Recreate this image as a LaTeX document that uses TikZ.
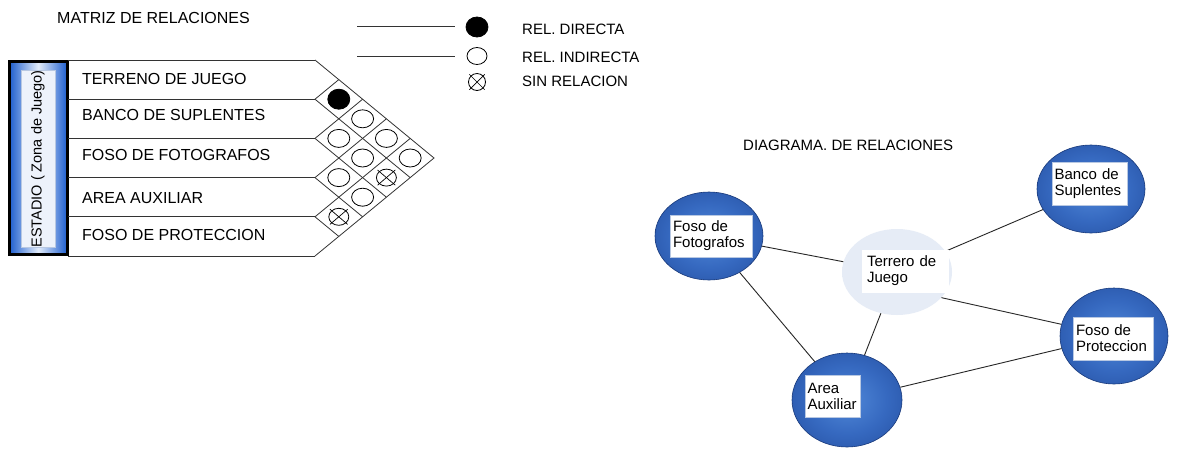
\documentclass[tikz,border=0pt]{standalone}
\usepackage{fontspec}
\setmainfont{Liberation Sans}
\usetikzlibrary{shapes.geometric,calc}
\definecolor{boxblue}{HTML}{1F5FCF}
\definecolor{boxlight}{HTML}{E2ECFB}
\definecolor{ellin}{HTML}{5088D8}
\definecolor{ellmid}{HTML}{3669C0}
\definecolor{ellout}{HTML}{1C4391}
\definecolor{terin}{HTML}{E6ECF6}
\definecolor{terout}{HTML}{C4D3EA}
\definecolor{linegray}{HTML}{333333}
\definecolor{tboxedge}{HTML}{B8C8E2}
\pgfdeclareradialshading{ellshade}{\pgfpoint{0bp}{0bp}}{color(0bp)=(ellin); color(18bp)=(ellmid); color(44bp)=(ellout); color(50bp)=(ellout)}
\pgfdeclareradialshading{tershade}{\pgfpoint{0bp}{0bp}}{color(0bp)=(terin); color(28bp)=(terin); color(45bp)=(terout); color(50bp)=(terout!80!white)}
\begin{document}
\begin{tikzpicture}[x=1pt,y=-1pt,
  lbl/.style={anchor=west, font=\fontsize{16}{18}\selectfont, inner sep=0pt},
  leg/.style={anchor=west, font=\fontsize{15}{17}\selectfont, inner sep=0pt},
  mline/.style={draw=linegray, line width=0.8pt},
  rel/.style={ellipse, draw=black, line width=0.8pt, minimum width=22pt, minimum height=18pt, inner sep=0pt},
  dirrel/.style={rel, fill=black, minimum height=20pt},
  xline/.style={draw=black, line width=0.7pt, shorten <=-2pt, shorten >=-2pt},
  bubble/.style={ellipse, minimum width=108pt, minimum height=88pt, shading=ellshade, draw=ellout!85!black, line width=0.6pt, inner sep=0pt},
  terbub/.style={ellipse, minimum width=110pt, minimum height=86pt, shading=tershade, inner sep=0pt},
  tbox/.style={fill=white, draw=tboxedge, line width=0.6pt, inner sep=0pt, align=left, font=\fontsize{15}{16}\selectfont},
  edge/.style={draw=black!85, line width=0.9pt}]
\path[fill=white] (0,0) rectangle (1181,451);
\useasboundingbox (0,0) rectangle (1181,451);

% titles
\node[lbl] (t1) at (57,18) {MATRIZ DE RELACIONES};
\node[leg] (t2) at (743,145) {DIAGRAMA. DE RELACIONES};

% legend
\node[dirrel, minimum width=22pt, minimum height=20pt] (ld) at (477,27) {};
\node[rel, minimum width=20pt, minimum height=17pt] (li) at (477,56) {};
\node[rel, minimum width=17pt, minimum height=17pt] (ls) at (477,82) {};
\draw[xline] (ls.north west) -- (ls.south east);
\draw[xline] (ls.north east) -- (ls.south west);
\coordinate (ld0) at (357,26);
\coordinate (ld1) at (455,26);
\coordinate (li0) at (357,56);
\coordinate (li1) at (455,56);
\draw[mline] (ld0) -- (ld1);
\draw[mline] (li0) -- (li1);
\node[leg] (lt1) at (522,29) {REL. DIRECTA};
\node[leg] (lt2) at (522,57) {REL. INDIRECTA};
\node[leg] (lt3) at (522,81) {SIN RELACION};

% blue box
\draw[line width=3pt, draw=black, left color=boxblue, right color=boxblue, middle color=boxlight] (9.5,61.5) rectangle (67,254.5);
\node[rotate=90, fill=white!92!boxblue, draw=tboxedge, line width=0.6pt, minimum width=176pt, minimum height=34pt, inner sep=0pt, font=\fontsize{14.5}{16}\selectfont] (est) at (38,159) {ESTADIO ( Zona de Juego)};

% matrix rows
\foreach \k in {0,...,5} {
  \draw[mline] (68,{60+39.2*\k}) -- (315,{60+39.2*\k});
}
\coordinate (tip) at (434,158);
\draw[mline] (315,60) -- (tip) -- (315,256);
\draw[mline] (315,99.2) -- (338.8,79.6);
\draw[mline] (315,99.2) -- (410.2,177.6);
\draw[mline] (315,138.4) -- (362.6,99.2);
\draw[mline] (315,138.4) -- (386.4,197.2);
\draw[mline] (315,177.6) -- (386.4,118.8);
\draw[mline] (315,177.6) -- (362.6,216.8);
\draw[mline] (315,216.8) -- (410.2,138.4);
\draw[mline] (315,216.8) -- (338.8,236.4);

% row labels
\node[lbl] (r1) at (82,79) {TERRENO DE JUEGO};
\node[lbl] (r2) at (82,115) {BANCO DE SUPLENTES};
\node[lbl] (r3) at (82,155) {FOSO DE FOTOGRAFOS};
\node[lbl] (r4) at (82,198) {AREA AUXILIAR};
\node[lbl] (r5) at (82,235) {FOSO DE PROTECCION};

% matrix cells
\node[dirrel] (c12) at (338.8,99.2) {};
\node[rel] (c23) at (338.8,138.4) {};
\node[rel] (c34) at (338.8,177.6) {};
\node[rel, minimum width=20pt, minimum height=17pt] (c45) at (338.8,216.8) {};
\node[rel] (c13) at (362.6,118.8) {};
\node[rel] (c24) at (362.6,158) {};
\node[rel] (c35) at (362.6,197.2) {};
\node[rel] (c14) at (386.4,138.4) {};
\node[rel, minimum width=20pt, minimum height=17pt] (c25) at (386.4,177.6) {};
\node[rel] (c15) at (410.2,158) {};
\draw[xline] (c45.north west) -- (c45.south east);
\draw[xline] (c45.north east) -- (c45.south west);
\draw[xline] (c25.north west) -- (c25.south east);
\draw[xline] (c25.north east) -- (c25.south west);

% relation diagram
\node[bubble] (fof) at (709,236) {};
\node[bubble] (ban) at (1091,189) {};
\node[bubble, minimum width=108pt, minimum height=96pt] (pro) at (1114,336) {};
\node[bubble, minimum width=110pt, minimum height=94pt] (aux) at (847,400) {};
\node[terbub] (ter) at (897,272) {};

\draw[edge] (fof) -- (ter);
\draw[edge] (ter) -- (ban);
\draw[edge] (ter.-30) -- (pro);
\draw[edge] (ter) -- (aux);
\draw[edge] (fof) -- (aux);
\draw[edge] (aux) -- (pro);

\node[tbox, minimum width=82pt, minimum height=42pt, text width=76pt] (fofT) at (711,236) {Foso de\\Fotografos};
\node[tbox, minimum width=75pt, minimum height=43pt, text width=70pt] (banT) at (1089.5,183.5) {Banco de\\Suplentes};
\node[tbox, draw=white, minimum width=86pt, minimum height=42pt, text width=76pt] (terT) at (905,271) {Terrero de\\Juego};
\node[tbox, minimum width=80pt, minimum height=43pt, text width=74pt] (proT) at (1113,338.5) {Foso de\\Proteccion};
\node[tbox, minimum width=55pt, minimum height=42pt, text width=50pt] (auxT) at (832.5,396) {Area\\Auxiliar};
\end{tikzpicture}
\end{document}
